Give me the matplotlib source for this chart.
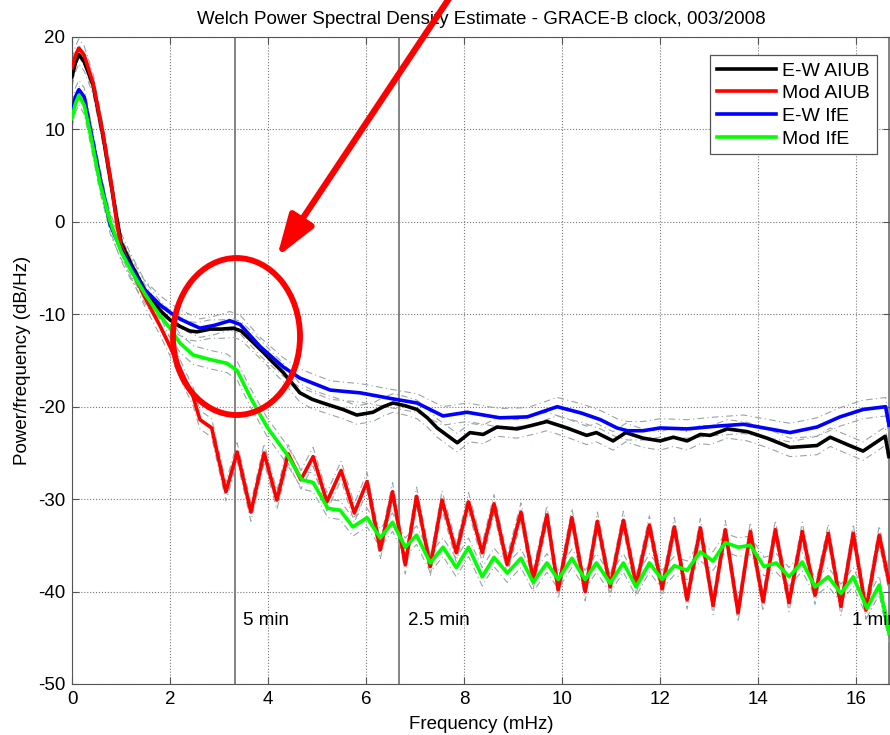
import numpy as np
import matplotlib.pyplot as plt
from matplotlib.patches import Ellipse, FancyArrowPatch

plt.rcParams['font.family'] = ['Liberation Sans', 'DejaVu Sans']
plt.rcParams['axes.unicode_minus'] = False

# E-W AIUB (black)
f_ew_aiub = [0, 0.07, 0.14, 0.25, 0.43, 0.63, 0.8, 0.9, 1.0, 1.2, 1.5, 1.8, 2.0, 2.2, 2.4, 2.55,
             2.82, 3.05, 3.29, 3.45, 3.57, 3.9, 4.1, 4.31, 4.65, 4.9, 5.12, 5.53, 5.81, 6.14, 6.35,
             6.55, 6.8, 7.04, 7.25, 7.45, 7.86, 8.12, 8.39, 8.67, 9.08, 9.4, 9.69, 10.1, 10.5, 10.7,
             11.04, 11.3, 11.65, 12.0, 12.27, 12.55, 12.82, 13.02, 13.37, 13.78, 14.18, 14.65, 15.2,
             15.47, 15.82, 16.14, 16.59, 16.67]
p_ew_aiub = [15.7, 17.2, 18.1, 17.3, 14.8, 9.4, 4.0, 0.8, -2.2, -4.5, -7.5, -9.6, -10.6, -11.3, -11.8,
             -11.9, -11.6, -11.6, -11.5, -11.8, -12.4, -14.1, -15.2, -16.3, -18.5, -19.2, -19.6, -20.3,
             -20.9, -20.6, -20.0, -19.6, -19.9, -20.3, -21.2, -22.3, -23.9, -22.8, -23.0, -22.2, -22.4,
             -22.0, -21.6, -22.3, -23.1, -22.8, -23.7, -22.8, -23.4, -23.7, -23.3, -23.7, -23.0, -23.1,
             -22.4, -22.7, -23.4, -24.4, -24.2, -23.3, -24.1, -24.8, -23.2, -25.4]

# Mod AIUB (red)
f_mod_aiub = [0, 0.07, 0.14, 0.25, 0.43, 0.63, 0.8, 0.91, 1.0, 1.2, 1.5, 1.8, 2.0, 2.3, 2.47, 2.61,
              2.85, 3.14, 3.37, 3.65, 3.92, 4.18, 4.41, 4.67, 4.92, 5.2, 5.49, 5.76, 6.02, 6.29, 6.54,
              6.8, 7.03, 7.31, 7.55, 7.84, 8.09, 8.37, 8.61, 8.88, 9.16, 9.41, 9.69, 9.92, 10.2, 10.47,
              10.72, 10.98, 11.25, 11.51, 11.78, 12.04, 12.29, 12.55, 12.82, 13.08, 13.33, 13.59, 13.84,
              14.1, 14.35, 14.63, 14.9, 15.16, 15.43, 15.69, 15.94, 16.2, 16.47, 16.67]
p_mod_aiub = [16.7, 18.0, 18.8, 18.0, 15.0, 9.6, 4.2, 0.0, -2.6, -5.0, -8.3, -11.3, -13.5, -17.0, -18.9,
              -21.4, -22.3, -29.2, -24.9, -31.4, -25.0, -30.1, -25.1, -27.9, -25.4, -30.3, -26.9, -31.5,
              -28.1, -35.5, -29.2, -37.1, -29.7, -37.3, -30.1, -35.8, -30.3, -35.8, -30.5, -37.1, -31.4,
              -38.7, -31.7, -39.8, -32.0, -40.0, -32.4, -39.5, -32.3, -39.3, -32.8, -39.7, -33.0, -40.9,
              -33.1, -41.5, -33.3, -42.3, -33.5, -41.1, -33.3, -41.2, -33.5, -40.4, -33.7, -41.6, -33.7,
              -42.0, -33.9, -39.0]

# E-W IfE (blue)
f_ew_ife = [0, 0.07, 0.14, 0.25, 0.37, 0.57, 0.78, 1.0, 1.2, 1.46, 1.8, 2.0, 2.2, 2.4, 2.61, 2.9,
            3.22, 3.43, 3.84, 4.31, 4.65, 5.27, 5.67, 5.88, 6.29, 6.49, 7.04, 7.57, 8.06, 8.73, 9.29,
            9.9, 10.4, 10.78, 11.12, 11.33, 11.65, 12.0, 12.55, 13.16, 13.7, 14.65, 15.2, 15.67, 16.14,
            16.6, 16.67]
p_ew_ife = [11.9, 13.5, 14.3, 13.5, 10.2, 4.8, -0.3, -3.0, -4.8, -7.2, -9.0, -9.8, -10.5, -11.0, -11.5,
            -11.2, -10.7, -11.1, -13.5, -15.7, -16.9, -18.2, -18.4, -18.5, -18.9, -19.1, -19.6, -21.0,
            -20.6, -21.2, -21.1, -20.0, -20.7, -21.4, -22.3, -22.6, -22.6, -22.3, -22.4, -22.1, -21.9,
            -22.8, -22.2, -21.1, -20.3, -20.0, -22.0]

# Mod IfE (green)
f_mod_ife = [0, 0.07, 0.14, 0.25, 0.37, 0.57, 0.78, 1.0, 1.2, 1.5, 1.8, 2.0, 2.2, 2.47, 2.82, 3.16,
             3.37, 3.63, 3.98, 4.39, 4.69, 4.92, 5.22, 5.47, 5.73, 6.02, 6.29, 6.54, 6.8, 7.03, 7.31,
             7.57, 7.84, 8.09, 8.37, 8.61, 8.88, 9.16, 9.41, 9.69, 9.92, 10.2, 10.47, 10.7, 10.98, 11.25,
             11.51, 11.78, 12.04, 12.29, 12.55, 12.82, 13.08, 13.33, 13.59, 13.84, 14.12, 14.37, 14.63,
             14.9, 15.16, 15.43, 15.69, 15.94, 16.22, 16.47, 16.67]
p_mod_ife = [11.2, 12.8, 13.7, 12.6, 9.6, 4.2, 0.0, -3.2, -5.2, -7.9, -10.2, -11.5, -13.1, -14.4, -14.9,
             -15.3, -16.1, -18.9, -22.2, -25.2, -27.9, -28.2, -31.0, -31.2, -33.0, -32.0, -34.2, -32.5,
             -35.2, -33.9, -36.9, -35.2, -37.4, -35.2, -38.4, -36.3, -38.0, -36.4, -39.0, -36.9, -38.7,
             -36.4, -38.7, -36.9, -39.1, -36.9, -39.5, -36.9, -38.7, -37.2, -37.7, -35.7, -36.7, -34.7,
             -35.2, -35.0, -37.3, -36.9, -38.4, -36.8, -39.5, -38.4, -40.2, -38.4, -41.8, -39.3, -44.5]

conf_db = 1.0  # half width of the confidence band (dB)

series = [("E-W AIUB", f_ew_aiub, p_ew_aiub, "#000000"),
          ("Mod AIUB", f_mod_aiub, p_mod_aiub, "#ff0000"),
          ("E-W IfE", f_ew_ife, p_ew_ife, "#0000ff"),
          ("Mod IfE", f_mod_ife, p_mod_ife, "#00ff00")]

period_lines = [3.333, 6.667, 16.667]
period_labels = ["5 min", "2.5 min", "1 min"]
period_label_x = [3.49, 6.86, 15.92]

fs = 13.5
fig = plt.figure(figsize=(8.9, 7.35), dpi=100)
ax = fig.add_axes([72 / 890, 1 - 684 / 735, 1 - 72 / 890, (684 - 37) / 735])

# confidence bounds first, under the curves
for name, f, p, c in series:
    p = np.array(p)
    for s in (-1, 1):
        ax.plot(f, p + s * conf_db, color="#97a5a5", lw=0.8, ls=(0, (6, 3, 1, 3)), zorder=2)

for name, f, p, c in series:
    ax.plot(f, p, color=c, lw=2.6, label=name, zorder=3)

for xv in period_lines:
    ax.axvline(xv, color="#6e6e6e", lw=1.2, zorder=1)
for lx, lab in zip(period_label_x, period_labels):
    ax.text(lx, -43.1, lab, fontsize=fs, va="center", ha="left", clip_on=False)

ax.set_xlim(0, 16.69)
ax.set_ylim(-50, 20)
ax.set_xticks(range(0, 17, 2))
ax.set_yticks(range(-50, 21, 10))
ax.grid(True, ls=":", color="#777777", lw=0.8)
ax.tick_params(direction="in", top=True, right=True, labelsize=fs, length=5, pad=5, color="#555555")
for sp in ax.spines.values():
    sp.set_color("#555555")

ax.set_xlabel("Frequency (mHz)", fontsize=fs, labelpad=6)
ax.set_ylabel("Power/frequency (dB/Hz)", fontsize=fs, labelpad=5)
ax.set_title("Welch Power Spectral Density Estimate - GRACE-B clock, 003/2008", fontsize=fs, pad=9)

leg = ax.legend(loc="upper right", bbox_to_anchor=(0.984, 0.972), borderaxespad=0, fontsize=14,
                handlelength=3.0, labelspacing=0.26, fancybox=False, framealpha=1, edgecolor="#555555",
                borderpad=0.35, handletextpad=0.35)
leg.get_frame().set_linewidth(0.9)
for ln in leg.get_lines():
    ln.set_linewidth(2.6)

# annotation: red ellipse and arrow in figure pixel coordinates
ell = Ellipse((236.5 / 890, 1 - 336.5 / 735), 127 / 890, 157 / 735, transform=fig.transFigure,
              fill=False, edgecolor="#ff0000", lw=4.2, zorder=10)
fig.patches.append(ell)
arr = FancyArrowPatch((456 / 890, 1 + 12 / 735), (277 / 890, 1 - 257 / 735), transform=fig.transFigure,
                      arrowstyle="-|>,head_length=0.9,head_width=0.3", mutation_scale=28,
                      color="#ff0000", lw=4.5, shrinkA=0, shrinkB=0, zorder=10)
fig.patches.append(arr)

fig.savefig("out.png", dpi=100)
